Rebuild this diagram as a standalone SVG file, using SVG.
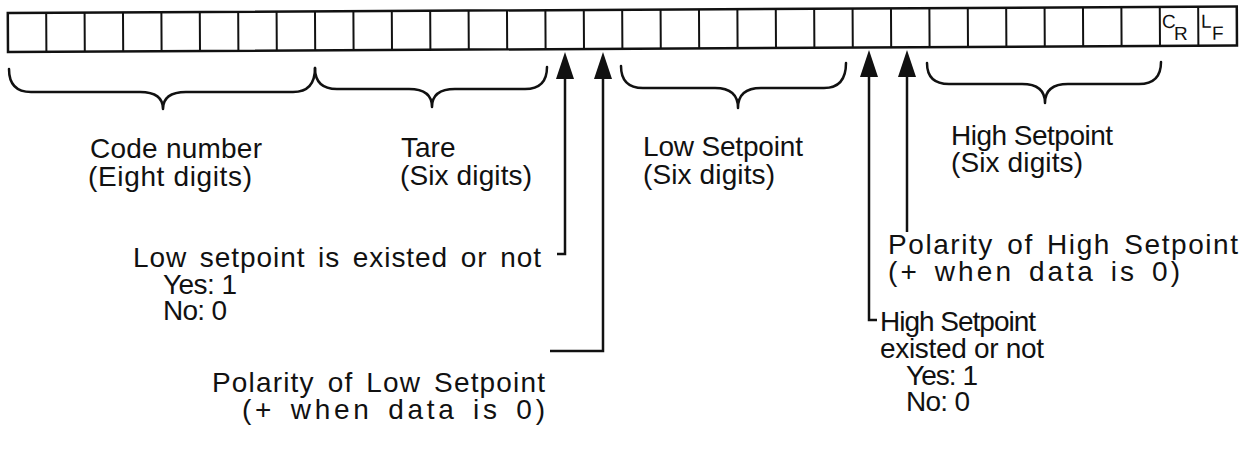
<svg xmlns="http://www.w3.org/2000/svg" width="1253" height="460" viewBox="0 0 1253 460">
<style>
.t{font-family:"Liberation Sans",Arial,sans-serif;font-size:28px;fill:#111}
.w{word-spacing:4px}
.s{font-family:"Liberation Sans",Arial,sans-serif;font-size:19px;fill:#111}
.cell{fill:#fff;stroke:#111;stroke-width:2.5}
.div{stroke:#111;stroke-width:2}
.br{fill:none;stroke:#111;stroke-width:2.5;stroke-linecap:round;stroke-linejoin:round}
.ln{fill:none;stroke:#111;stroke-width:2.5}
.ah{fill:#111}
</style>
<rect width="1253" height="460" fill="#fff"/>
<g id="strip" transform="rotate(-0.3 8 53)">
<rect class="cell" x="8" y="13" width="1229" height="39"/>
<path class="div" d="M46.4 13V52M84.8 13V52M123.2 13V52M161.6 13V52M200 13V52M238.4 13V52M276.8 13V52M315.2 13V52M353.6 13V52M392 13V52M430.4 13V52M468.8 13V52M507.2 13V52M545.6 13V52M584 13V52M622.4 13V52M660.8 13V52M699.2 13V52M737.6 13V52M776 13V52M814.4 13V52M852.8 13V52M891.2 13V52M929.6 13V52M968 13V52M1006.4 13V52M1044.8 13V52M1083.2 13V52M1121.6 13V52M1160 13V52M1198.4 13V52"/>
<text class="s" x="1162" y="34">C</text><text class="s" x="1174" y="46">R</text>
<text class="s" x="1201" y="34">L</text><text class="s" x="1212" y="46">F</text>
</g>
<g id="brace-code">
<path class="br" d="M9 69Q9 92 31 92L140 92Q163 92 163 109Q163 92 186 92L293 92Q315 92 315 68"/>
<text class="t" x="90" y="158" textLength="172" lengthAdjust="spacing">Code number</text>
<text class="t" x="88" y="186" textLength="164" lengthAdjust="spacing">(Eight digits)</text>
</g>
<g id="brace-tare">
<path class="br" d="M315 68Q315 89 337 89L409 89Q432 89 432 107Q432 89 455 89L525 89Q547 89 547 67"/>
<text class="t" x="401" y="157">Tare</text>
<text class="t" x="400" y="185" textLength="132" lengthAdjust="spacing">(Six digits)</text>
</g>
<g id="brace-low">
<path class="br" d="M621 66Q621 88 643 88L715 88Q738 88 738 108Q738 88 761 88L824 88Q846 88 846 63"/>
<text class="t" x="643" y="156" textLength="160" lengthAdjust="spacing">Low Setpoint</text>
<text class="t" x="643" y="184" textLength="132" lengthAdjust="spacing">(Six digits)</text>
</g>
<g id="brace-high">
<path class="br" d="M927 63Q927 84 949 84L1022 84Q1045 84 1045 103Q1045 84 1068 84L1139 84Q1161 84 1161 62"/>
<text class="t" x="951" y="145" textLength="162" lengthAdjust="spacing">High Setpoint</text>
<text class="t" x="951" y="172" textLength="132" lengthAdjust="spacing">(Six digits)</text>
</g>
<g id="connectors">
<path class="ln" d="M565 78V254H557"/>
<path class="ah" d="M565 52L574 79H556Z"/>
<path class="ln" d="M603 78V351H550"/>
<path class="ah" d="M603 52L612 79H594Z"/>
<path class="ln" d="M869 76V320H877"/>
<path class="ah" d="M869 50L878 77H860Z"/>
<path class="ln" d="M907 76V232"/>
<path class="ah" d="M907 50L916 77H898Z"/>
</g>
<g id="low-exists">
<text class="t w" x="133" y="267" textLength="408" lengthAdjust="spacing">Low setpoint is existed or not</text>
<text class="t" x="163" y="294" textLength="74" lengthAdjust="spacing">Yes: 1</text>
<text class="t" x="163" y="320" textLength="64" lengthAdjust="spacing">No: 0</text>
</g>
<g id="low-polarity">
<text class="t w" x="212" y="392" textLength="333" lengthAdjust="spacing">Polarity of Low Setpoint</text>
<text class="t w" x="242" y="419" textLength="303" lengthAdjust="spacing">(+ when data is 0)</text>
</g>
<g id="high-polarity">
<text class="t w" x="888" y="254" textLength="350" lengthAdjust="spacing">Polarity of High Setpoint</text>
<text class="t w" x="888" y="281" textLength="292" lengthAdjust="spacing">(+ when data is 0)</text>
</g>
<g id="high-exists">
<text class="t" x="880" y="331" textLength="156" lengthAdjust="spacing">High Setpoint</text>
<text class="t" x="880" y="358" textLength="164" lengthAdjust="spacing">existed or not</text>
<text class="t" x="906" y="385" textLength="72" lengthAdjust="spacing">Yes: 1</text>
<text class="t" x="906" y="411" textLength="64" lengthAdjust="spacing">No: 0</text>
</g>
</svg>
